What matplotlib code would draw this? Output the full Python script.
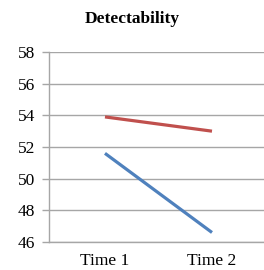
import numpy as np
import matplotlib.pyplot as plt

plt.rcParams['font.family'] = ['Liberation Serif', 'DejaVu Serif']

categorias = ["Time 1", "Time 2"]
serie_roja = [53.9, 53.0]
serie_azul = [51.6, 46.6]
ticks_y = [46, 48, 50, 52, 54, 56, 58]

fig = plt.figure(figsize=(2.64, 2.70), dpi=100)
ax = fig.add_axes([49/264, 28/270, 215/264, 190/270])

x = np.arange(len(categorias))
ax.plot(x, serie_roja, color="#C0504D", lw=2.3, solid_capstyle="butt")
ax.plot(x, serie_azul, color="#4F81BD", lw=2.3, solid_capstyle="butt")

ax.set_ylim(46, 58)
ax.set_xlim(-0.523, 1.486)
ax.set_yticks(ticks_y)
ax.set_xticks(x)
ax.set_xticklabels(categorias)
ax.grid(axis="y", color="#a6a6a6", lw=1.0)
ax.set_axisbelow(True)

for s in ["top", "right"]:
    ax.spines[s].set_visible(False)
for s in ["left", "bottom"]:
    ax.spines[s].set_color("#a6a6a6")
    ax.spines[s].set_linewidth(1.0)

ax.tick_params(axis="y", length=5, width=1.0, color="#a6a6a6", labelsize=12.5, pad=5)
ax.tick_params(axis="x", length=0, labelsize=12.5, pad=8)

fig.text(0.5, 1 - 19/270, "Detectability", ha="center", va="center",
         fontsize=12.5, fontweight="bold")

fig.savefig("out.png", dpi=100)
